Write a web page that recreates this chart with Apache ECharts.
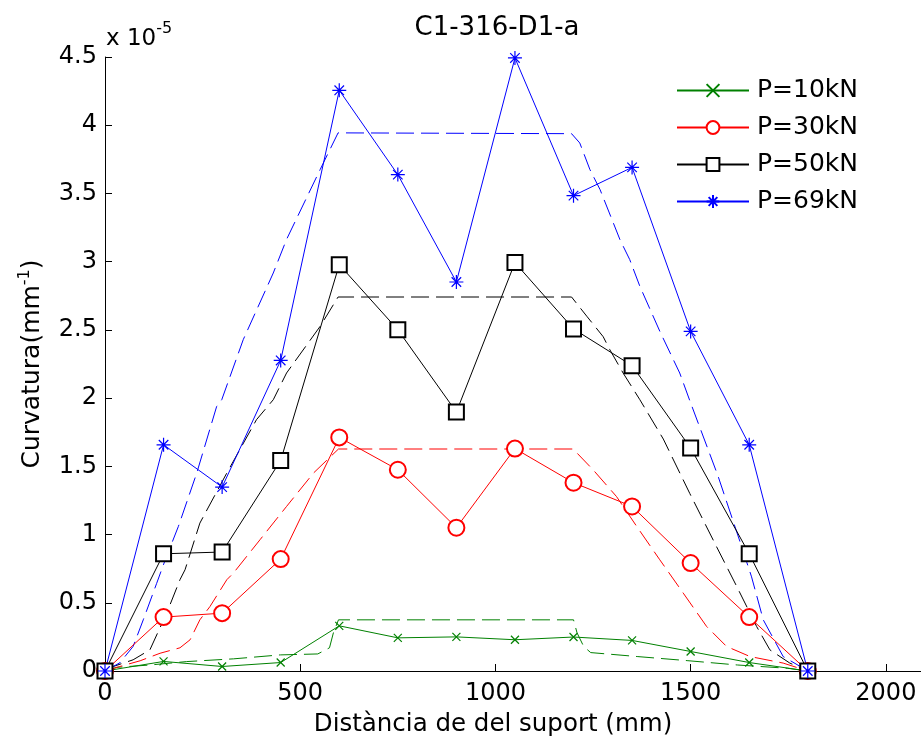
<!DOCTYPE html>
<html>
<head>
<meta charset="utf-8">
<script src="https://cdn.jsdelivr.net/npm/echarts@6/dist/echarts.min.js"></script>
<style>
  html, body { margin: 0; padding: 0; background: #fff; }
  #main { width: 921px; height: 745px; }
</style>
</head>
<body>
<div id="main"></div>
<script>
// distancia al suport (mm), punts mesurats
var xPts = [0, 150, 300, 450, 600, 750, 900, 1050, 1200, 1350, 1500, 1650, 1800]
// curvatura x 1e-5 (mm^-1)
var exp10 = [0, 0.07, 0.033, 0.062, 0.331, 0.243, 0.25, 0.229, 0.249, 0.224, 0.143, 0.062, 0]
var exp30 = [0, 0.395, 0.424, 0.82, 1.712, 1.475, 1.05, 1.63, 1.38, 1.206, 0.791, 0.395, 0]
var exp50 = [0, 0.859, 0.872, 1.543, 2.978, 2.501, 1.898, 2.993, 2.507, 2.238, 1.634, 0.859, 0]
var exp69 = [0, 1.658, 1.348, 2.276, 4.256, 3.638, 2.851, 4.493, 3.484, 3.691, 2.489, 1.658, 0]

// corbes teoriques (llegides del grafic)
var teoX10 = [0, 30, 115, 209, 329, 449, 545, 575, 585, 598, 1200, 1209, 1226, 1244, 1363, 1491, 1620, 1748, 1800]
var teoY10 = [0, 0.027, 0.044, 0.069, 0.089, 0.118, 0.125, 0.17, 0.28, 0.375, 0.375, 0.28, 0.18, 0.135, 0.106, 0.076, 0.044, 0.02, 0]
var teoX30 = [0, 38, 90, 141, 192, 218, 243, 269, 312, 329, 397, 465, 534, 598, 1199, 1250, 1310, 1362, 1421, 1481, 1541, 1592, 1652, 1737, 1800]
var teoY30 = [0, 0.033, 0.075, 0.13, 0.17, 0.229, 0.375, 0.473, 0.669, 0.718, 0.962, 1.206, 1.451, 1.627, 1.627, 1.475, 1.279, 1.059, 0.815, 0.571, 0.326, 0.18, 0.106, 0.058, 0]
var teoX50 = [0, 21, 72, 115, 158, 192, 205, 243, 312, 388, 431, 465, 551, 597, 1195, 1234, 1276, 1293, 1327, 1370, 1430, 1498, 1566, 1618, 1669, 1703, 1754, 1800]
var teoY50 = [0, 0.033, 0.082, 0.155, 0.424, 0.669, 0.742, 1.084, 1.451, 1.842, 1.988, 2.184, 2.526, 2.741, 2.741, 2.6, 2.45, 2.355, 2.184, 1.988, 1.7, 1.3, 0.913, 0.62, 0.326, 0.155, 0.058, 0]
var teoX69 = [0, 38, 72, 98, 132, 155, 188, 235, 286, 299, 354, 431, 465, 551, 597, 1195, 1216, 1242, 1268, 1319, 1344, 1370, 1421, 1472, 1498, 1570, 1625, 1656, 1686, 1737, 1788, 1800]
var teoY69 = [0, 0.06, 0.18, 0.375, 0.64, 0.82, 1.06, 1.451, 1.939, 1.988, 2.428, 2.917, 3.163, 3.675, 3.944, 3.938, 3.87, 3.675, 3.528, 3.161, 3.015, 2.819, 2.49, 2.184, 1.98, 1.43, 0.96, 0.69, 0.375, 0.106, 0.021, 0]

var xTicks = [0, 500, 1000, 1500, 2000]
var legendNames = ['P=10kN', 'P=30kN', 'P=50kN', 'P=69kN']
var colors = ['#008000', '#ff0000', '#000000', '#0000ff']

function pairs (xs, ys) {
  var out = []
  for (var i = 0; i < xs.length; i++) out.push([xs[i], ys[i]])
  return out
}

var FONT = 'DejaVu Sans, Verdana, sans-serif'
var crossSym = 'path://M0,0L10,10M10,0L0,10'
var starSym = 'path://M5,0L5,10M0,5L10,5M1.6,1.6L8.4,8.4M8.4,1.6L1.6,8.4'

function expSeries (i, data, symbol, size, stroke) {
  return {
    name: legendNames[i],
    type: 'line',
    z: 5,
    data: pairs(xPts, data),
    symbol: symbol,
    symbolSize: size,
    showAllSymbol: true,
    lineStyle: { color: colors[i], width: 1 },
    itemStyle: stroke
      ? { color: 'rgba(0,0,0,0)', borderColor: colors[i], borderWidth: 1.2 }
      : { color: colors[i], borderColor: colors[i], borderWidth: 1.2 },
    animation: false
  }
}

function teoSeries (i, xs, ys) {
  return {
    name: 'teo' + i,
    type: 'line',
    z: 3,
    data: pairs(xs, ys),
    symbol: 'none',
    lineStyle: { color: colors[i], width: 1, type: [18, 7] },
    animation: false
  }
}

var chart = echarts.init(document.getElementById('main'), null, { renderer: 'canvas' })
var option = {
  backgroundColor: '#ffffff',
  textStyle: { fontFamily: FONT },
  title: {
    text: 'C1-316-D1-a',
    left: 492,
    top: 10,
    textAlign: 'center',
    textStyle: { fontFamily: FONT, fontSize: 26, fontWeight: 'normal', color: '#000' }
  },
  legend: {
    data: legendNames,
    orient: 'vertical',
    left: 676,
    top: 77,
    padding: 0,
    itemWidth: 72,
    itemHeight: 16,
    itemGap: 10,
    textStyle: { fontFamily: FONT, fontSize: 25, color: '#000', lineHeight: 27, padding: [0, 0, 0, 3] }
  },
  graphic: [{
    type: 'text',
    left: 106,
    top: 21,
    style: {
      text: '{n|x 10}{s|-5}',
      rich: {
        n: { fontFamily: FONT, fontSize: 23, fill: '#000', lineHeight: 30, verticalAlign: 'bottom' },
        s: { fontFamily: FONT, fontSize: 16, fill: '#000', verticalAlign: 'top' }
      }
    }
  }],
  grid: { left: 105, top: 57, right: 0, bottom: 74, containLabel: false },
  xAxis: {
    type: 'value',
    min: 0,
    max: 2090,
    interval: 500,
    name: 'Distància de del suport (mm)',
    nameLocation: 'middle',
    nameGap: 41,
    nameTextStyle: { fontFamily: FONT, fontSize: 24.5, color: '#000', padding: [0, 40, 0, 0] },
    axisLine: { show: true, lineStyle: { color: '#000', width: 1 } },
    axisTick: { show: true, inside: true, length: 7, customValues: xTicks, lineStyle: { color: '#000' } },
    axisLabel: {
      customValues: xTicks,
      formatter: function (v) { return String(v) },
      fontFamily: FONT, fontSize: 24, color: '#000', margin: 11
    },
    splitLine: { show: false }
  },
  yAxis: {
    type: 'value',
    min: 0,
    max: 4.5,
    interval: 0.5,
    name: 'Curvatura(mm{s|-1})',
    nameLocation: 'middle',
    nameGap: 58,
    nameRotate: 90,
    nameTextStyle: {
      fontFamily: FONT, fontSize: 25, color: '#000', lineHeight: 30,
      rich: { s: { fontFamily: FONT, fontSize: 16, color: '#000', verticalAlign: 'top', lineHeight: 30 } }
    },
    axisLine: { show: true, lineStyle: { color: '#000', width: 1 } },
    axisTick: { show: true, inside: true, length: 7, lineStyle: { color: '#000' } },
    axisLabel: { fontFamily: FONT, fontSize: 24, color: '#000', margin: 8 },
    splitLine: { show: false }
  },
  series: [
    teoSeries(0, teoX10, teoY10),
    teoSeries(1, teoX30, teoY30),
    teoSeries(2, teoX50, teoY50),
    teoSeries(3, teoX69, teoY69),
    expSeries(0, exp10, crossSym, 8, true),
    expSeries(1, exp30, 'emptyCircle', 16, false),
    expSeries(2, exp50, 'emptyRect', 15, false),
    expSeries(3, exp69, starSym, 14, true)
  ]
}
option && chart.setOption(option)
</script>
</body>
</html>
